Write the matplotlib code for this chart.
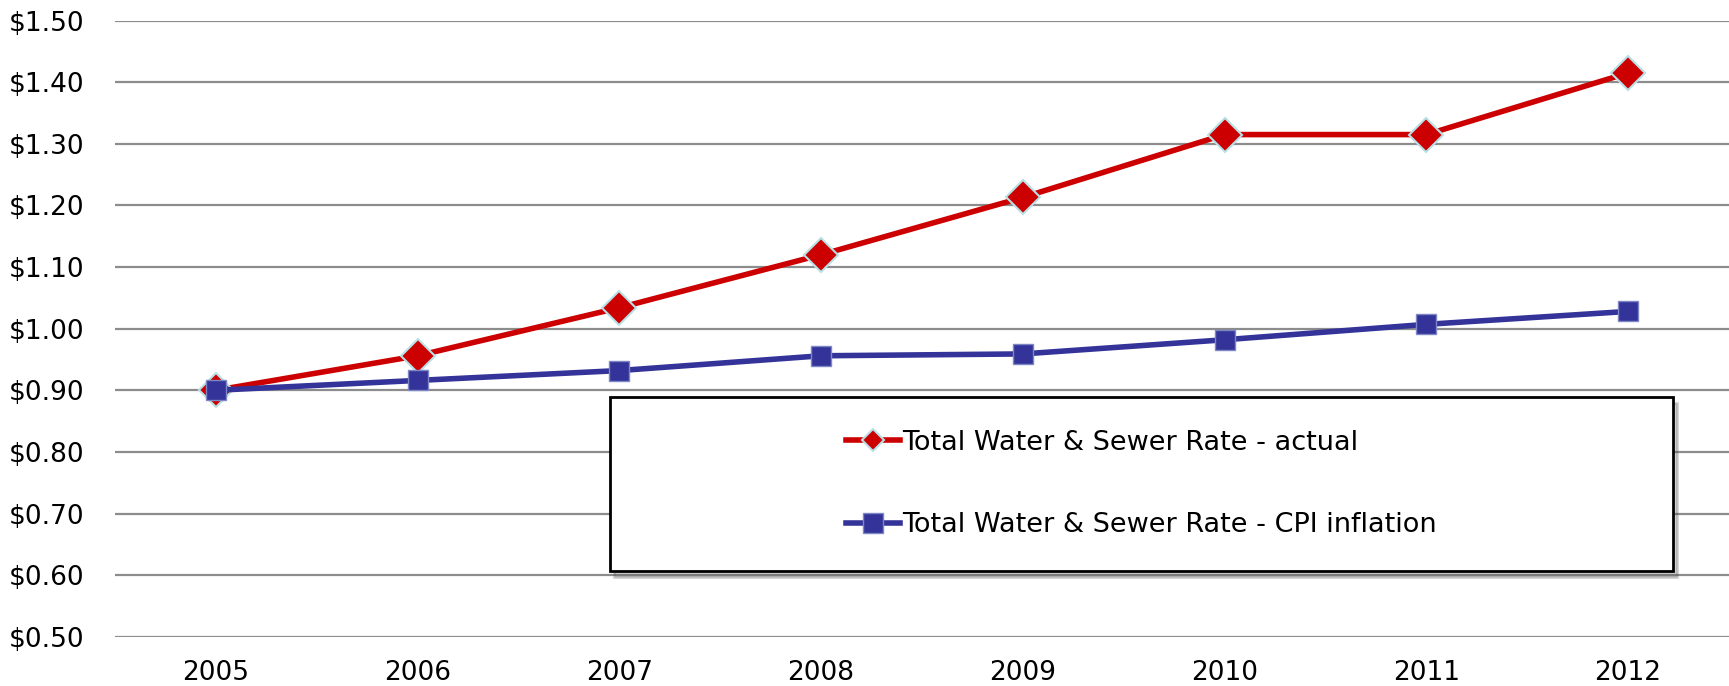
import matplotlib.pyplot as plt
import matplotlib.patches as mpatches
import numpy as np

# Years on the category axis
years = ['2005', '2006', '2007', '2008', '2009', '2010', '2011', '2012']

# Rate per unit ($)
actual = [0.900, 0.956, 1.034, 1.120, 1.213, 1.315, 1.315, 1.415]
cpi = [0.900, 0.916, 0.932, 0.956, 0.959, 0.982, 1.007, 1.028]

y_ticks = [0.5, 0.6, 0.7, 0.8, 0.9, 1.0, 1.1, 1.2, 1.3, 1.4, 1.5]

fig = plt.figure(figsize=(17.29, 6.86), dpi=100)
ax = fig.add_axes([0.0665, 0.0718, 0.9335, 0.8982])

x = np.arange(len(years))
ax.plot(x, actual, '-', color='#CC0000', lw=4, marker='D', markersize=17,
        markerfacecolor='#CC0000', markeredgecolor='#B8E0E6', markeredgewidth=1.5,
        label='Total Water & Sewer Rate - actual', zorder=3)
ax.plot(x, cpi, '-', color='#333399', lw=4, marker='s', markersize=15,
        markerfacecolor='#333399', markeredgecolor='#7F86C6', markeredgewidth=1,
        label='Total Water & Sewer Rate - CPI inflation', zorder=4)

ax.set_xlim(-0.5, len(years) - 0.5)
ax.set_ylim(0.5, 1.5)
ax.set_xticks(x)
ax.set_xticklabels(years)
ax.set_yticks(y_ticks)
ax.set_yticklabels(['$%.2f' % v for v in y_ticks])
ax.tick_params(length=0, labelsize=19)
ax.tick_params(axis='x', pad=17)
ax.tick_params(axis='y', pad=22)
ax.yaxis.grid(True, color='#8C8C8C', lw=1.6)
ax.set_axisbelow(True)
for s in ax.spines.values():
    s.set_visible(False)

# legend box with shadow
bx, by, bw, bh = 610 / 1729, 1 - 571 / 686, 1063 / 1729, 174 / 686
box = mpatches.Rectangle((bx, by), bw, bh, transform=fig.transFigure,
                         facecolor='white', edgecolor='black', lw=2,
                         clip_on=False, zorder=5)
shadow = mpatches.Shadow(box, 3 / 1729, -4 / 686, alpha=0.25)
shadow.set_clip_on(False)
shadow.set_zorder(4.9)
ax.add_artist(shadow)
ax.add_artist(box)

leg = ax.legend(loc='center', bbox_to_anchor=(bx + bw / 2, by + bh / 2),
                bbox_transform=fig.transFigure, frameon=False, fontsize=19.5,
                handlelength=2.0, handletextpad=0.1, labelspacing=2.1)
leg.set_zorder(6)
leg.legend_handles[0].set_markersize(11)
leg.legend_handles[1].set_markersize(15)

fig.savefig('out.png', dpi=100)
